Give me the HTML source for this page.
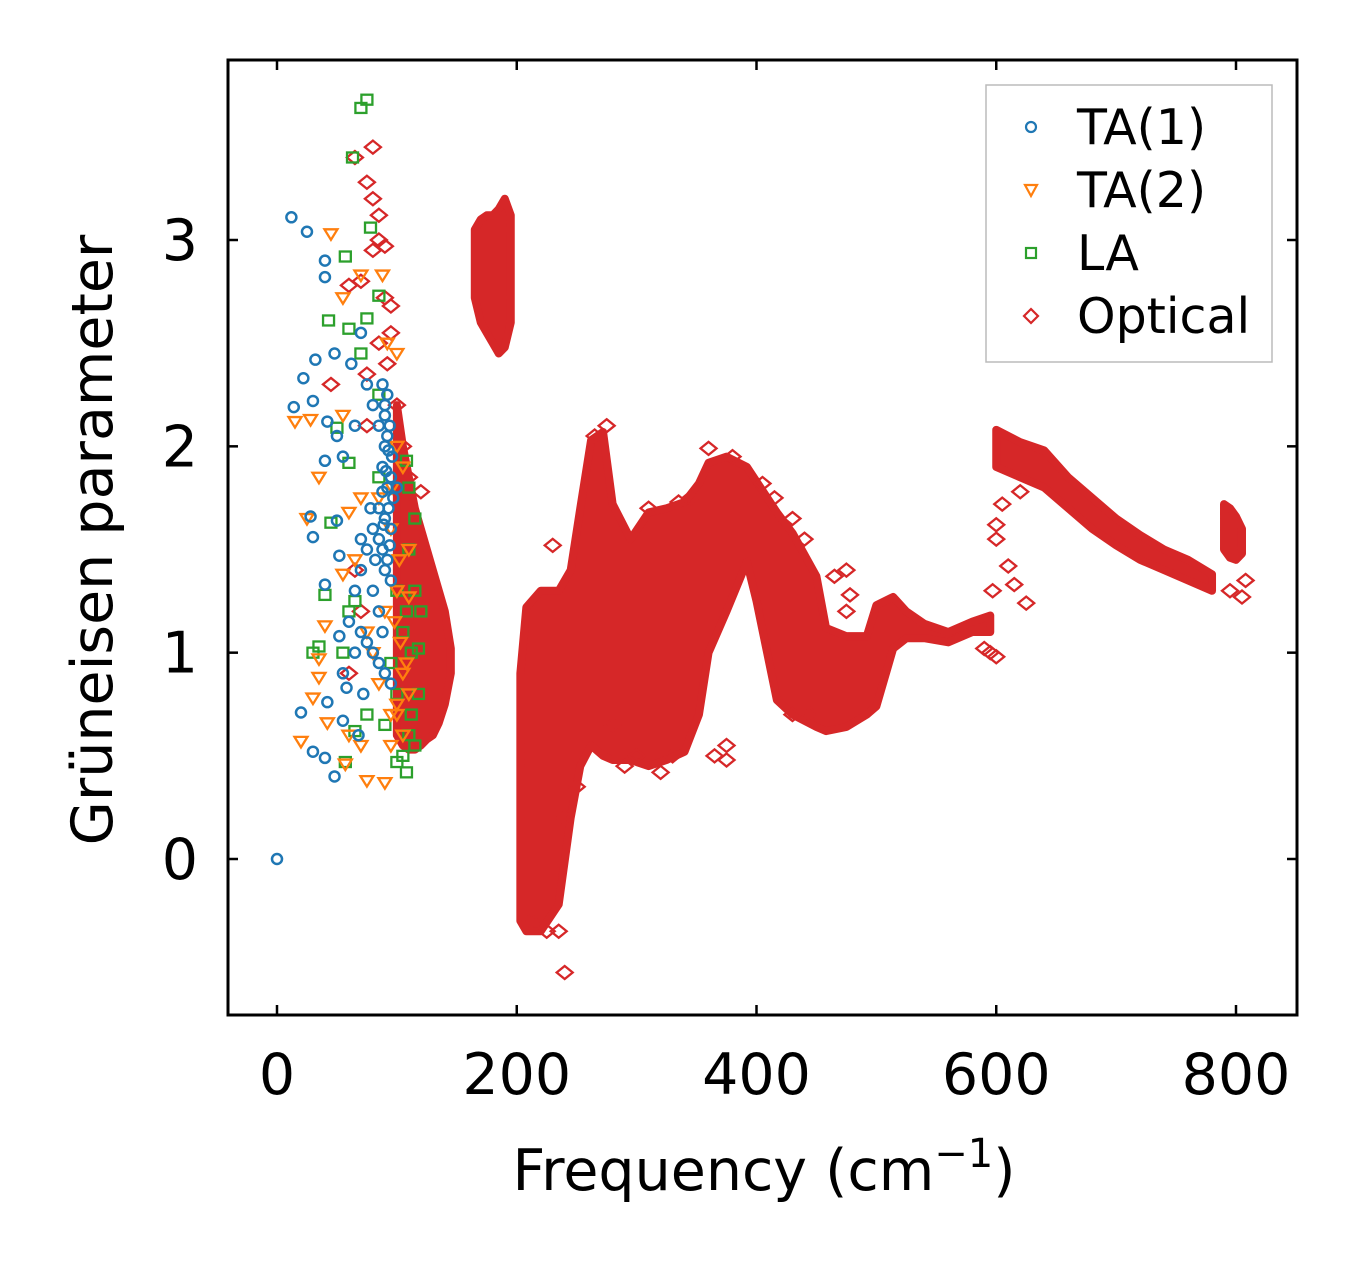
<!DOCTYPE html>
<html><head><meta charset="utf-8"><style>
body{margin:0;background:#fff}
svg{display:block;font-family:"DejaVu Sans","Liberation Sans",sans-serif}
</style></head><body>
<svg id="chart" width="1357" height="1264">
<g id="plot"></g>
<rect x="228" y="60" width="1069" height="955" fill="none" stroke="#000" stroke-width="3"/>
<g id="axes"></g>
<text x="764" y="1190" font-size="57" text-anchor="middle">Frequency (cm<tspan dy="-23" font-size="40">−1</tspan><tspan dy="23">)</tspan></text>
<text transform="translate(112,540) rotate(-90)" font-size="57" text-anchor="middle">Grüneisen parameter</text>
<g>
<rect x="986" y="85" width="286" height="277" fill="#fff" stroke="#bbb" stroke-width="1.5"/>
<circle cx="1031" cy="127" r="5" fill="none" stroke="#1f77b4" stroke-width="2.2"/>
<text x="1077" y="144" font-size="49">TA(1)</text>
<path d="M1025,185 L1037,185 L1031,196 Z" fill="none" stroke="#ff7f0e" stroke-width="2.2"/>
<text x="1077" y="207" font-size="49">TA(2)</text>
<rect x="1026" y="248" width="10" height="10" fill="none" stroke="#2ca02c" stroke-width="2.2"/>
<text x="1077" y="270" font-size="49">LA</text>
<path d="M1031,309 L1038,316 L1031,323 L1024,316 Z" fill="none" stroke="#d62728" stroke-width="2.2"/>
<text x="1077" y="333" font-size="49">Optical</text>
</g>
</svg>
<script>
const xTicks=[0,200,400,600,800];
const yTicks=[0,1,2,3];
const ta1=[[12,3.11],[25,3.04],[40,2.9],[40,2.82],[22,2.33],[32,2.42],[48,2.45],[30,2.22],[14,2.19],[42,2.12],[50,2.05],[40,1.93],[55,1.95],[28,1.66],[30,1.56],[50,1.64],[52,1.47],[40,1.33],[52,1.08],[55,0.9],[58,0.83],[42,0.76],[20,0.71],[55,0.67],[30,0.52],[40,0.49],[48,0.4],[0,0],[62,2.4],[65,2.1],[70,2.55],[75,2.3],[80,2.2],[85,2.1],[90,2.0],[88,1.9],[92,1.8],[85,1.7],[80,1.6],[75,1.5],[70,1.4],[65,1.3],[60,1.15],[70,1.1],[80,1.0],[90,0.9],[95,0.85],[85,1.2],[90,1.4],[95,1.6],[92,2.25],[88,2.3],[94,2.1],[96,1.95],[100,1.8],[88,1.5],[72,0.8],[68,0.6],[90,2.15],[92,2.05],[95,1.85],[93,1.7],[90,1.65],[88,1.78],[97,1.75],[85,1.55],[92,1.45],[95,1.35],[80,1.3],[88,1.1],[75,1.05],[85,0.95],[65,1.0],[82,1.45],[78,1.7],[70,1.55],[90,2.2],[93,1.98],[91,1.88],[89,1.62],[94,1.52]];
const ta2=[[45,3.03],[70,2.83],[88,2.83],[55,2.72],[92,2.5],[100,2.45],[15,2.12],[28,2.13],[55,2.15],[35,1.85],[25,1.65],[60,1.68],[70,1.75],[85,1.75],[100,2.0],[105,1.9],[95,1.6],[110,1.5],[55,1.38],[65,1.45],[40,1.13],[35,0.97],[35,0.88],[30,0.78],[42,0.66],[20,0.57],[57,0.46],[75,0.38],[90,0.37],[95,0.7],[100,0.75],[105,0.9],[80,1.0],[75,1.1],[85,0.85],[90,1.2],[100,1.3],[110,1.27],[95,0.55],[60,0.6],[70,0.55],[100,0.7],[103,1.05],[108,0.95],[98,1.15],[105,0.6],[110,0.8],[102,1.45],[96,1.8]];
const la=[[75,3.68],[70,3.64],[63,3.40],[78,3.06],[57,2.92],[85,2.73],[75,2.62],[43,2.61],[60,2.57],[70,2.45],[85,2.25],[50,2.09],[60,1.92],[45,1.63],[35,1.03],[30,1.0],[40,1.28],[55,1.0],[60,1.2],[65,1.25],[75,0.7],[65,0.62],[57,0.47],[100,0.47],[108,0.42],[110,0.6],[115,0.55],[108,1.93],[115,1.65],[110,1.5],[100,1.3],[120,1.2],[112,1.0],[95,0.95],[90,0.65],[118,0.8],[105,1.1],[100,0.8],[110,1.8],[85,1.85],[115,1.3],[108,1.2],[112,0.7],[105,0.5],[118,1.02]];
const optical=[[65,3.4],[80,3.45],[75,3.28],[80,3.2],[85,3.12],[85,3.0],[80,2.95],[90,2.97],[70,2.8],[60,2.78],[90,2.72],[95,2.68],[95,2.55],[85,2.5],[45,2.3],[75,2.35],[120,1.78],[240,-0.55],[230,1.52],[235,-0.35],[365,0.5],[375,0.48],[375,0.55],[320,0.42],[290,0.45],[430,0.7],[445,0.7],[475,1.4],[478,1.28],[465,1.37],[475,1.2],[595,1.0],[600,0.98],[590,1.02],[625,1.24],[615,1.33],[610,1.42],[600,1.55],[600,1.62],[605,1.72],[620,1.78],[597,1.3],[805,1.27],[795,1.3],[808,1.35],[360,1.99],[380,1.95],[405,1.82],[415,1.75],[430,1.65],[440,1.55],[275,2.1],[265,2.05],[310,1.7],[280,0.65],[100,2.2],[92,2.4],[105,2.0],[110,1.85],[75,2.1],[65,1.4],[70,1.2],[60,0.9],[212,-0.3],[225,-0.35],[330,0.5],[300,0.5],[345,1.75],[335,1.73],[240,0.2],[250,0.35]];
// dense optical bands: x, lower, upper
const bandX1=[165,170,175,180,185,190,195];
const bandLo1=[2.72,2.6,2.55,2.5,2.45,2.48,2.6];
const bandHi1=[3.05,3.1,3.12,3.12,3.15,3.2,3.12];
const bandX2=[100,105,110,115,120,125,130,135,140,145];
const bandLo2=[0.6,0.55,0.53,0.53,0.55,0.58,0.6,0.66,0.75,0.9];
const bandHi2=[2.2,2.0,1.85,1.7,1.6,1.5,1.4,1.3,1.2,1.02];
const bandX3=[203,208,220,235,245,253,262,272,280,295,310,325,340,352,360,375,392,400,417,430,450,458,475,492,500,514,525,540,560,580,595];
const bandLo3=[-0.3,-0.35,-0.35,-0.22,0.2,0.45,0.55,0.5,0.48,0.48,0.45,0.48,0.52,0.7,1.0,1.2,1.44,1.25,0.77,0.7,0.64,0.62,0.64,0.7,0.74,1.02,1.07,1.07,1.05,1.1,1.1];
const bandHi3=[0.9,1.22,1.3,1.3,1.4,1.7,2.03,2.07,1.72,1.55,1.68,1.7,1.73,1.82,1.92,1.95,1.9,1.83,1.68,1.58,1.37,1.12,1.08,1.08,1.23,1.27,1.2,1.14,1.1,1.15,1.18];
const bandX4=[600,620,640,660,680,700,720,740,760,780];
const bandLo4=[1.9,1.85,1.8,1.7,1.6,1.52,1.45,1.4,1.35,1.3];
const bandHi4=[2.08,2.02,1.98,1.85,1.75,1.65,1.57,1.5,1.45,1.38];
const bandX5=[790,795,800,805];
const bandLo5=[1.5,1.46,1.45,1.48];
const bandHi5=[1.72,1.7,1.66,1.6];

const NS='http://www.w3.org/2000/svg';
const X=v=>277+v*1.19875, Y=v=>859-v*206.333;
const plot=document.getElementById('plot'), axes=document.getElementById('axes');
function mk(tag,attrs,parent){const e=document.createElementNS(NS,tag);for(const k in attrs)e.setAttribute(k,attrs[k]);parent.appendChild(e);return e;}
const RED='#d62728';
function band(xs,lo,hi,name){
  let d='M'+xs.map((x,i)=>X(x)+','+Y(hi[i])).join(' L')+' L'+xs.slice().reverse().map((x,i)=>X(x)+','+Y(lo[xs.length-1-i])).join(' L')+' Z';
  const p=mk('path',{d:d,fill:RED,stroke:RED,'stroke-width':8,'stroke-linejoin':'round'},plot);
  
  
}
band(bandX1,bandLo1,bandHi1,'optical-band-180');
band(bandX2,bandLo2,bandHi2,'optical-band-120');
band(bandX3,bandLo3,bandHi3,'optical-band-main');
band(bandX4,bandLo4,bandHi4,'optical-band-700');
band(bandX5,bandLo5,bandHi5,'optical-band-800');
optical.forEach(([x,y])=>{const cx=X(x),cy=Y(y);
  const e=mk('path',{d:`M${cx},${cy-6.5} L${cx+8},${cy} L${cx},${cy+6.5} L${cx-8},${cy} Z`,fill:'none',stroke:RED,'stroke-width':2.3},plot);
  
  });
la.forEach(([x,y])=>{const cx=X(x),cy=Y(y);
  const e=mk('rect',{x:cx-5.5,y:cy-5,width:11,height:10,fill:'none',stroke:'#2ca02c','stroke-width':2.3},plot);
  
  });
ta2.forEach(([x,y])=>{const cx=X(x),cy=Y(y);
  const e=mk('path',{d:`M${cx-6.5},${cy-4.5} L${cx+6.5},${cy-4.5} L${cx},${cy+6} Z`,fill:'none',stroke:'#ff7f0e','stroke-width':2.3},plot);
  
  });
ta1.forEach(([x,y])=>{
  const e=mk('circle',{cx:X(x),cy:Y(y),r:5,fill:'none',stroke:'#1f77b4','stroke-width':2.5},plot);
  
  });
xTicks.forEach(v=>{const x=X(v);
  mk('line',{x1:x,x2:x,y1:1015,y2:1005,stroke:'#000','stroke-width':2.5},axes);
  mk('line',{x1:x,x2:x,y1:60,y2:70,stroke:'#000','stroke-width':2.5},axes);
  const t=mk('text',{x:x,y:1094,'font-size':57,'text-anchor':'middle'},axes);t.textContent=v;
  
  });
yTicks.forEach(v=>{const y=Y(v);
  mk('line',{x1:228,x2:238,y1:y,y2:y,stroke:'#000','stroke-width':2.5},axes);
  mk('line',{x1:1297,x2:1287,y1:y,y2:y,stroke:'#000','stroke-width':2.5},axes);
  const t=mk('text',{x:198,y:y+20,'font-size':57,'text-anchor':'end'},axes);t.textContent=v;
  
  });
</script>
</body></html>
